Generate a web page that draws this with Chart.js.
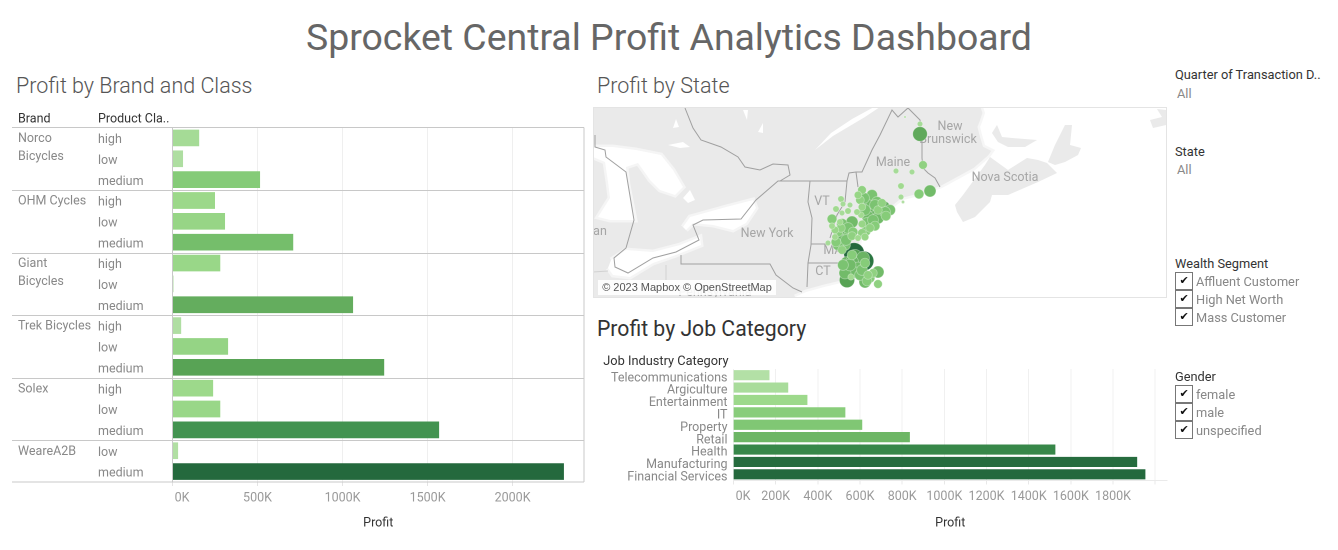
<!DOCTYPE html>
<html>
<head>
<meta charset="utf-8">
<script src="https://cdn.jsdelivr.net/npm/chart.js@4/dist/chart.umd.js"></script>
<style>
  html, body { margin: 0; padding: 0; background: #fff; overflow: hidden; }
  body { width: 1338px; height: 550px; position: relative; font-family: Roboto, sans-serif; }
  .t { position: absolute; white-space: nowrap; line-height: 1; }
  .title { left: 0; width: 1338px; top: 19px; text-align: center; font-size: 37.4px; color: #666; }
  .sub { font-size: 21.5px; color: #555; font-weight: 300; }
  .head { font-size: 12.8px; color: #333; }
  .val { font-size: 12.8px; color: #888; }
  .box { position: absolute; left: 1175px; width: 16px; height: 16px; border: 1px solid #777;
         font: 11px "DejaVu Sans", sans-serif; line-height: 16px; text-align: center; color: #111; }
  canvas { position: absolute; display: block; }
  #attrib { position: absolute; left: 598px; top: 280px; width: 178px; height: 15px; background: rgba(255,255,255,.88);
            font: 11px "Liberation Sans", sans-serif; line-height: 15px; color: #555; text-align: center; }
  #frame { position: absolute; left: 593px; top: 107px; width: 572px; height: 189px; border: 1px solid #e4e4e4; pointer-events: none; }
</style>
</head>
<body>
  <div class="t title">Sprocket Central Profit Analytics Dashboard</div>
  <div class="t sub" style="left:16px;top:75px">Profit by Brand and Class</div>
  <div class="t sub" style="left:597px;top:75px">Profit by State</div>
  <div class="t sub" style="left:597px;top:318px;color:#333;font-weight:400;font-size:21.2px">Profit by Job Category</div>

  <canvas id="brandChart" style="left:0;top:100px;width:590px;height:440px"></canvas>
  <canvas id="mapChart" style="left:593px;top:107px;width:573px;height:190px"></canvas>
  <canvas id="jobChart" style="left:590px;top:340px;width:590px;height:200px"></canvas>
  <div id="frame"></div>
  <div id="attrib">© 2023 Mapbox © OpenStreetMap</div>

  <div class="t head" style="left:1175px;top:69px">Quarter of Transaction D..</div>
  <div class="t val" style="left:1177px;top:88px">All</div>
  <div class="t head" style="left:1175px;top:146px">State</div>
  <div class="t val" style="left:1177px;top:164px">All</div>
  <div class="t head" style="left:1175px;top:258px">Wealth Segment</div>
  <div class="box" style="top:272px">✔</div><div class="t val" style="left:1196px;top:276px">Affluent Customer</div>
  <div class="box" style="top:290px">✔</div><div class="t val" style="left:1196px;top:294px">High Net Worth</div>
  <div class="box" style="top:308px">✔</div><div class="t val" style="left:1196px;top:312px">Mass Customer</div>
  <div class="t head" style="left:1175px;top:371px">Gender</div>
  <div class="box" style="top:385px">✔</div><div class="t val" style="left:1196px;top:389px">female</div>
  <div class="box" style="top:403px">✔</div><div class="t val" style="left:1196px;top:407px">male</div>
  <div class="box" style="top:421px">✔</div><div class="t val" style="left:1196px;top:425px">unspecified</div>

<script>
// profit by brand and class, in thousands
const brands = [['Norco', 'Bicycles'], ['OHM Cycles'], ['Giant', 'Bicycles'], ['Trek Bicycles'], ['Solex'], ['WeareA2B']];
const brandRows = [3, 3, 3, 3, 3, 2];
const productClass = ['high', 'low', 'medium', 'high', 'low', 'medium', 'high', 'low', 'medium',
  'high', 'low', 'medium', 'high', 'low', 'medium', 'low', 'medium'];
const brandProfit = [155, 60, 513, 248, 307, 708, 279, 4, 1060, 49, 325, 1243, 237, 279, 1566, 31, 2300];
const brandTicks = [0, 500, 1000, 1500, 2000];

// profit by job category, in thousands
const jobCategories = ['Telecommunications', 'Argiculture', 'Entertainment', 'IT', 'Property', 'Retail',
  'Health', 'Manufacturing', 'Financial Services'];
const jobProfit = [169, 258, 349, 529, 609, 835, 1525, 1913, 1952];
const jobTicks = [0, 200, 400, 600, 800, 1000, 1200, 1400, 1600, 1800, 2000];

// customer locations on the map: longitude, latitude, profit in thousands
const cityLon = [-68.15, -68.15, -68, -69.35, -68.55, -69.1, -69.1, -69, -68.2, -67.65, -68.9,
  -71.05, -70.55, -71.15, -70.75, -70.3, -70, -69.65, -69.85, -70.25, -70.65, -70.4, -71.05, -71.1, -70.8, -70.5, -70.65, -71.05, -70.9, -71.25,
  -72.1, -72, -71.65, -72.35, -72.05, -71.75, -72.55, -72.15, -72.05, -71.55, -72.4, -71.5, -72, -72.15, -71.75, -72.4, -71.9, -71.55, -72.75,
  -71.45, -70.95, -71.4, -71.8, -72, -71.75, -71.3, -71, -70.9, -71.55, -71.8, -71.15, -71.3, -70.9, -70.5, -70.25, -70.25, -71.6, -70.75,
  -70.95, -71.25, -70.55, -70.05, -69.9, -70.25, -70.75, -70.9, -70.4, -71.05, -70.4, -70.85, -71.3,
  -71.75, -72.25, -72.25, -72.05, -71.85, -72.55, -72.1, -72.35,
  -71.55, -71.25, -71.5, -70.65, -70.8, -71.9, -71.65, -71.05];
const cityLat = [46.84, 47.24, 45.6, 45.36, 45.32, 44.76, 44.32, 44.12, 44.44, 44.56, 47.52,
  44.6, 44.4, 44.2, 44.08, 44.12, 43.88, 43.8, 43.56, 43.8, 43.72, 43.52, 43.92, 43.6, 43.28, 43.4, 43.08, 42.88, 42.72, 42.68,
  44.24, 44.04, 44, 43.84, 43.68, 43.76, 43.44, 43.32, 43.24, 43.32, 43, 42.92, 42.8, 42.6, 42.72, 42.72, 42.4, 42.76, 42.48,
  42.08, 41.76, 41.92, 41.68, 41.6, 41.48, 41.68, 41.88, 41.68, 42, 41, 41.2, 41.32, 40.92, 41.28, 41.32, 40.84, 41.12, 41.2,
  44.28, 44.4, 44.08, 44.08, 43.72, 43.48, 43.52, 43.8, 44, 43.24, 43.16, 42.96, 43.72,
  43.08, 42.92, 42.4, 42.2, 42.6, 43.16, 43.08, 42.52,
  41.72, 41.48, 41.32, 41.08, 40.96, 41.28, 41.6, 41.4];
const cityProfit = [62, 9, 22, 9, 9, 12, 9, 3, 28, 42, 1.5,
  22, 35, 22, 50, 35, 62, 35, 28, 22, 50, 50, 17, 12, 35, 35, 22, 22, 17, 12,
  12, 9, 9, 12, 9, 12, 28, 12, 35, 42, 17, 28, 50, 50, 35, 12, 35, 22, 9,
  125, 112, 68, 50, 35, 50, 68, 50, 28, 28, 68, 35, 50, 42, 22, 42, 22, 12, 22,
  35, 17, 42, 22, 35, 42, 42, 35, 35, 17, 28, 28, 12,
  35, 28, 35, 22, 35, 12, 22, 28,
  50, 42, 42, 28, 28, 42, 42, 35];

// base map outlines, longitude / latitude pairs
const ocean = [[-74.4, 40.32], [-73.85, 40.52], [-72.95, 40.72], [-71.9, 40.92], [-71.25, 41.72], [-71.05, 42.6], [-70.3, 43.32], [-69.5, 43.88],
  [-69, 44.2], [-68, 44.4], [-67.05, 44.68], [-65.4, 45.4], [-64.65, 45.92], [-64.4, 46.2], [-64.9, 46.4], [-65.05, 46.8], [-65.15, 47.12],
  [-65.05, 47.32], [-64.9, 47.68], [-65, 47.92], [-55.85, 47.92], [-55.85, 40.32]];
const novaScotia = [[-66.4, 44], [-66, 44.4], [-64.9, 45.6], [-64.65, 45.92], [-63.75, 45.4], [-62.8, 45.88], [-62.25, 45.8], [-61.8, 45.68],
  [-61.3, 45.28], [-62.25, 44.92], [-63.75, 44.4], [-64.55, 44.4], [-64.65, 44.12], [-65.4, 43.52], [-66, 43.32], [-66.3, 43.72]];
const capeBreton = [[-61.75, 45.72], [-61.4, 46.4], [-60.9, 47.2], [-60.55, 47.2], [-60.65, 46.4], [-60.1, 46.28], [-60.25, 46], [-60.9, 45.72], [-61.4, 45.6]];
const princeEdward = [[-64.55, 46.88], [-64.3, 47.2], [-64.05, 46.72], [-63.55, 46.68], [-62.3, 46.6], [-62.9, 46.32], [-63.75, 46.32], [-64.25, 46.52]];
const newfoundland = [[-56.65, 47.4], [-56.5, 47.08], [-55.85, 47.2], [-55.85, 47.8], [-56.3, 47.84], [-56.05, 47.52]];
const greatLakes = [
  [[-84.5, 46.32], [-83.5, 46.32], [-82.35, 46.2], [-81.1, 46], [-80.5, 45.4], [-80, 44.72], [-80.4, 44.4], [-81.15, 44.6], [-81.65, 45], [-82, 45.4],
    [-82.25, 45.68], [-82.85, 45.52], [-82.75, 44.8], [-82.4, 43.4], [-82.9, 43.4], [-83.65, 43.4], [-84.25, 43.52], [-83.65, 44.28], [-83.75, 44.92], [-83.9, 45.72], [-84.5, 45.92]],
  [[-83.6, 41.8], [-82.85, 42.2], [-81.5, 42.12], [-80.15, 42.4], [-79.15, 42.72], [-79.1, 42.4], [-80.35, 42], [-81.5, 41.68], [-82.65, 41.12], [-83.5, 41.2], [-83.75, 41.48]],
  [[-80, 43.12], [-79.65, 43.52], [-77.85, 43.92], [-76.5, 44.2], [-76.35, 43.88], [-76.85, 43.28], [-77.5, 43], [-78.5, 43.2], [-79.5, 43.28], [-79.85, 43]]
];
const smallWater = [
  [[-80, 44.28], [-79.65, 44.6], [-79.4, 44.2], [-79.75, 44.08]],
  [[-80.75, 46.4], [-80, 46.52], [-79.65, 46.32], [-80.15, 46.28]],
  [[-80.5, 47.08], [-80.35, 47.44], [-80.2, 47.12]],
  [[-77, 47.8], [-76.75, 47.8], [-76.8, 47.4]],
  [[-76.25, 46.92], [-76, 47.28], [-76, 46.88]],
  [[-73.4, 46.2], [-72.5, 46.76], [-70.9, 47.52], [-70.15, 47.92], [-70.45, 47.92], [-71.55, 47.44], [-72.6, 46.88]]
];
const borders = [
  [[-84.4, 46.8], [-84.4, 46.32], [-83.9, 46.2], [-83.85, 45.92], [-82.85, 45.32], [-82.45, 43.4], [-82.85, 42.28], [-83.45, 41.88], [-83.4, 41.52], [-82.75, 41.28],
    [-81.5, 41.88], [-80.35, 42.12], [-79.2, 42.6], [-79.5, 43.2], [-79, 43.4], [-77.1, 43.44], [-76.35, 44.2], [-75.25, 44.96], [-71.8, 44.96], [-71.7, 45.28],
    [-71.35, 45.32], [-71.05, 45.32], [-70.55, 46.2], [-70.15, 46.8], [-69.55, 47.8], [-69.25, 47.52], [-68.75, 47.88], [-68.15, 47.4], [-68.05, 46.68], [-68.05, 45.88],
    [-68, 45.48], [-67.75, 45.28], [-67.4, 45.08], [-67.15, 44.72]],
  [[-79.9, 47.88], [-79.5, 47.08], [-79.1, 46.6], [-78.1, 46.32], [-77.25, 45.92], [-76.9, 45.52], [-76.15, 45.4], [-75.5, 45.64], [-74.75, 45.6], [-74.65, 45.2], [-75.15, 44.96]],
  [[-73.65, 44.96], [-73.75, 44.12], [-73.55, 43.48], [-73.6, 42.4], [-73.75, 41.68], [-73.8, 40.72]],
  [[-80.1, 42], [-80.1, 41.64], [-75.65, 41.64], [-75.35, 41.2], [-74.5, 40.68], [-74.05, 40.52]],
  [[-71.8, 44.96], [-71.9, 44.12], [-72.3, 43.6], [-72.65, 42.68]],
  [[-73.6, 42.44], [-72.75, 42.44]],
  [[-73.75, 41.68], [-72.15, 41.68]],
  [[-71.35, 45.32], [-71.25, 44.72]]
];
const faintBorders = [[[-80.85, 41.6], [-80.85, 41]], [[-84.5, 41.32], [-83.75, 41.36]]];
const placeNames = ['New', 'Brunswick', 'Maine', 'Nova Scotia', 'New York', 'VT', 'MA', 'CT', 'an', 'Pennsylvania'];
const placeLon = [-66.65, -66.75, -69.5, -63.9, -75.8, -73.05, -72.5, -73, -84.15, -78.4];
const placeLat = [47.12, 46.6, 45.68, 45.08, 42.84, 44.12, 42.16, 41.32, 42.92, 40.48];

// light to dark greens, shared by bars and bubbles
const rampAt = [0, .05, .1, .22, .31, .46, .54, .68, .8, 1];
const rampColors = ['#b3e0a6', '#a9dc9b', '#9dd98b', '#85cb78', '#74bd6b', '#64ad5e', '#58a355', '#429350', '#328145', '#24693d'];

function hexPart(hex, i) { return parseInt(hex.substr(1 + i * 2, 2), 16); }
function ramp(t) {
  t = Math.min(1, Math.max(0, t));
  let i = 0;
  while (i < rampAt.length - 2 && t > rampAt[i + 1]) i++;
  const f = (t - rampAt[i]) / (rampAt[i + 1] - rampAt[i]);
  const c = [0, 1, 2].map(k => Math.round(hexPart(rampColors[i], k) + f * (hexPart(rampColors[i + 1], k) - hexPart(rampColors[i], k))));
  return `rgb(${c[0]},${c[1]},${c[2]})`;
}
// colour runs from the lowest to the highest value of each chart
function rampAll(values) {
  const lo = Math.min(...values), hi = Math.max(...values);
  return values.map(v => ramp((v - lo) / (hi - lo)));
}

const FONT = 'Roboto, sans-serif';
Chart.defaults.font.family = FONT;
Chart.defaults.animation = false;
Chart.defaults.responsive = false;
Chart.defaults.devicePixelRatio = 2;

function sizeCanvas(id) {
  const c = document.getElementById(id);
  c.width = parseInt(c.style.width);
  c.height = parseInt(c.style.height);
  return c;
}
// first tick label sits right of its gridline in the reference
function kLabel(v) { return v === 0 ? '\u2003\u20020K' : v + 'K'; }

// brand column and the frame round the rows
const brandFrame = {
  id: 'brandFrame',
  afterDraw(chart) {
    const { ctx, chartArea: a, scales: { y } } = chart;
    ctx.save();
    ctx.strokeStyle = '#c8c8c8';
    ctx.lineWidth = 1;
    ctx.beginPath();
    ctx.moveTo(a.left, a.top); ctx.lineTo(a.left, a.bottom);
    ctx.moveTo(a.right, a.top); ctx.lineTo(a.right, a.bottom);
    ctx.moveTo(12, a.top); ctx.lineTo(a.right, a.top);
    ctx.moveTo(12, a.bottom); ctx.lineTo(a.right, a.bottom);
    let row = 0;
    ctx.font = '12.5px ' + FONT;
    ctx.fillStyle = '#888';
    ctx.textBaseline = 'middle';
    brands.forEach((lines, b) => {
      const rowY = y.getPixelForValue(row);
      lines.forEach((line, l) => ctx.fillText(line, 18, rowY + 1 + l * 18));
      row += brandRows[b];
      if (row < productClass.length) {
        const sep = Math.round((y.getPixelForValue(row - 1) + y.getPixelForValue(row)) / 2) + .5;
        ctx.moveTo(12, sep); ctx.lineTo(a.right, sep);
      }
    });
    ctx.stroke();
    ctx.fillStyle = '#333';
    ctx.fillText('Brand', 18, a.top - 8);
    ctx.fillText('Product Cla..', 98, a.top - 8);
    ctx.restore();
  }
};

new Chart(sizeCanvas('brandChart'), {
  type: 'bar',
  plugins: [brandFrame],
  data: {
    labels: productClass,
    datasets: [{
      data: brandProfit,
      backgroundColor: rampAll(brandProfit),
      barThickness: 16
    }]
  },
  options: {
    indexAxis: 'y',
    layout: { padding: { left: 98, top: 27.5, right: 6 } },
    plugins: { legend: { display: false }, tooltip: { enabled: false } },
    scales: {
      x: {
        min: 0, max: 2420,
        afterFit(s) { s.height = 58; },
        afterBuildTicks(s) { s.ticks = brandTicks.map(v => ({ value: v })); },
        grid: { color: '#efefef', tickLength: 4, tickColor: '#e4e4e4' },
        border: { display: false },
        ticks: { autoSkip: false, maxRotation: 0, padding: 5, color: '#999', font: { size: 12.5 }, callback: kLabel },
        title: { display: true, text: 'Profit', color: '#333', font: { size: 12.5 }, padding: { top: 0, bottom: 9 } }
      },
      y: {
        afterFit(s) { s.width = 74.5; },
        grid: { display: false },
        border: { display: false },
        ticks: { crossAlign: 'far', autoSkip: false, labelOffset: 2, color: '#888', font: { size: 12.5 } }
      }
    }
  }
});

new Chart(sizeCanvas('jobChart'), {
  type: 'bar',
  plugins: [{
    id: 'jobHeader',
    afterDraw(chart) {
      const { ctx, chartArea: a } = chart;
      ctx.save();
      ctx.font = '12.8px ' + FONT;
      ctx.fillStyle = '#333';
      ctx.textAlign = 'right';
      ctx.textBaseline = 'middle';
      ctx.fillText('Job Industry Category', a.left - 5, 22);
      ctx.restore();
    }
  }],
  data: {
    labels: jobCategories,
    datasets: [{
      data: jobProfit,
      backgroundColor: rampAll(jobProfit),
      barThickness: 9.5
    }]
  },
  options: {
    indexAxis: 'y',
    layout: { padding: { top: 29, right: 13 } },
    plugins: { legend: { display: false }, tooltip: { enabled: false } },
    scales: {
      x: {
        min: 0, max: 2056,
        afterFit(s) { s.height = 59.5; },
        afterBuildTicks(s) { s.ticks = jobTicks.map(v => ({ value: v })); },
        grid: { color: '#f0f0f0', tickLength: 4, tickColor: '#e8e8e8' },
        border: { color: '#eaeaea' },
        ticks: {
          autoSkip: false, maxRotation: 0, padding: 5, color: '#999', font: { size: 12.5 },
          callback: v => (v >= 2000 ? '' : kLabel(v))
        },
        title: { display: true, text: 'Profit', color: '#333', font: { size: 12.5 }, padding: { top: 0, bottom: 9 } }
      },
      y: {
        afterFit(s) { s.width = 143.5; },
        grid: { display: false, drawTicks: false },
        border: { display: false },
        ticks: { autoSkip: false, padding: 6, labelOffset: 3, color: '#888', font: { size: 12.5 } }
      }
    }
  }
});

// map: land is the plot background, water and islands are filled line datasets
const toXY = pts => pts.map(p => ({ x: p[0], y: p[1] }));
const area = (pts, color, order, halo) => ({
  type: 'line', data: toXY(pts), order, fill: 'shape', backgroundColor: color, tension: 0, pointRadius: 0,
  borderWidth: halo ? 5 : 0, borderColor: halo || color
});
const line = (pts, color, order) => ({
  type: 'line', data: toXY(pts), order, fill: false, tension: 0, pointRadius: 0, borderWidth: 1, borderColor: color
});

const LAND = '#eaeaea';
const cities = cityLon.map((lon, i) => ({ x: lon, y: cityLat[i], p: cityProfit[i], r: Math.sqrt(cityProfit[i]) * .92 }))
  .sort((a, b) => b.p - a.p);
const mapDatasets = [
  {
    type: 'bubble', order: 0, data: cities,
    backgroundColor: rampAll(cities.map(c => c.p)),
    borderColor: 'rgba(255,255,255,.35)', borderWidth: .8
  },
  area(ocean, '#fff', 9, 'rgba(255,255,255,.55)'),
  area(novaScotia, LAND, 8),
  area(capeBreton, LAND, 8),
  area(princeEdward, LAND, 8),
  area(newfoundland, LAND, 8),
  ...greatLakes.map(l => area(l, '#fff', 7, 'rgba(255,255,255,.5)')),
  ...smallWater.map(l => area(l, '#fff', 7)),
  ...borders.map(b => line(b, '#a0a0a0', 5)),
  ...faintBorders.map(b => line(b, '#d2d2d2', 5))
];

new Chart(sizeCanvas('mapChart'), {
  type: 'bubble',
  plugins: [{
    id: 'mapBase',
    beforeDraw(chart) {
      const { ctx, chartArea: a } = chart;
      ctx.fillStyle = LAND;
      ctx.fillRect(a.left, a.top, a.width, a.height);
    },
    beforeDatasetDraw(chart, args) {
      if (args.index !== 0) return;
      const { ctx, scales: { x, y } } = chart;
      ctx.save();
      ctx.font = '12.5px ' + FONT;
      ctx.fillStyle = '#a6a6a6';
      ctx.textAlign = 'center';
      ctx.textBaseline = 'middle';
      placeNames.forEach((name, i) => ctx.fillText(name, x.getPixelForValue(placeLon[i]), y.getPixelForValue(placeLat[i])));
      ctx.restore();
    }
  }],
  data: { datasets: mapDatasets },
  options: {
    layout: { padding: 0, autoPadding: false },
    plugins: { legend: { display: false }, tooltip: { enabled: false } },
    scales: {
      x: { type: 'linear', min: -84.5, max: -55.85, display: false },
      y: { type: 'linear', min: 40.32, max: 47.92, display: false }
    }
  }
});
</script>
</body>
</html>
